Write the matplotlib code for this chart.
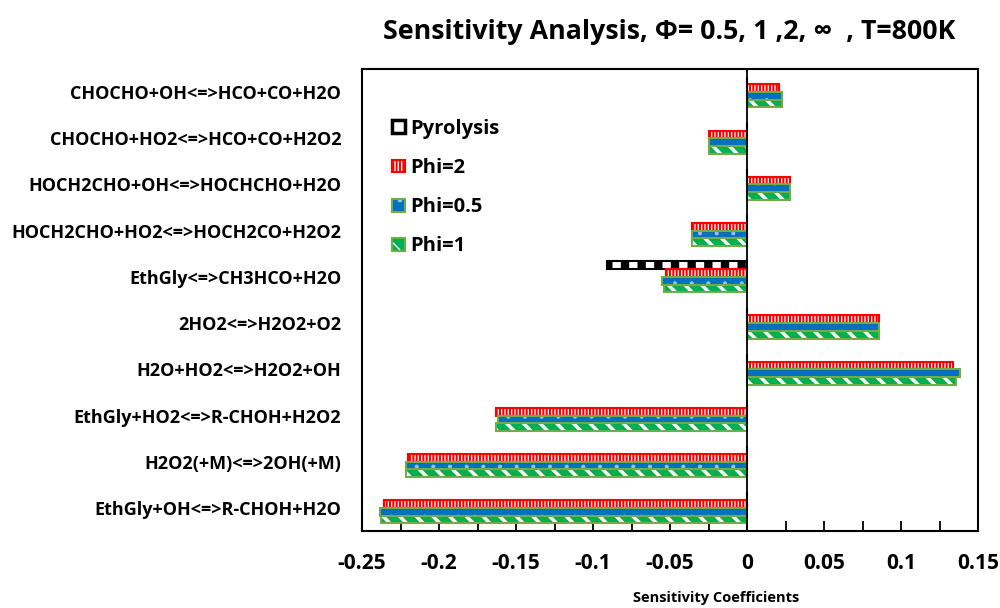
import matplotlib.pyplot as plt
from matplotlib.patches import Patch
from matplotlib.legend_handler import HandlerTuple
import numpy as np

plt.rcParams['font.family'] = ['Open Sans', 'DejaVu Sans']
plt.rcParams['font.weight'] = 'bold'

categories = [
    'CHOCHO+OH<=>HCO+CO+H2O',
    'CHOCHO+HO2<=>HCO+CO+H2O2',
    'HOCH2CHO+OH<=>HOCHCHO+H2O',
    'HOCH2CHO+HO2<=>HOCH2CO+H2O2',
    'EthGly<=>CH3HCO+H2O',
    '2HO2<=>H2O2+O2',
    'H2O+HO2<=>H2O2+OH',
    'EthGly+HO2<=>R-CHOH+H2O2',
    'H2O2(+M)<=>2OH(+M)',
    'EthGly+OH<=>R-CHOH+H2O',
]
pyrolysis = [0, 0, 0, 0, -0.091, 0, 0, 0, 0, 0]
phi2 = [0.021, -0.0245, 0.028, -0.036, -0.0525, 0.086, 0.134, -0.163, -0.220, -0.236]
phi05 = [0.023, -0.025, 0.028, -0.036, -0.055, 0.0856, 0.138, -0.162, -0.2217, -0.2386]
phi1 = [0.023, -0.0245, 0.028, -0.036, -0.0542, 0.086, 0.136, -0.163, -0.2217, -0.2378]

series = [
    # label, values, face, hatch colour, hatch, hatch lw, edge
    ('Pyrolysis', pyrolysis, 'white', 'black', '|', 6.0, 'black'),
    ('Phi=2', phi2, '#FF0000', 'white', '|||||', 0.9, '#FF0000'),
    ('Phi=0.5', phi05, '#0070C0', '#9fc3e6', '.', 0.5, '#70AD47'),
    ('Phi=1', phi1, '#00B050', 'white', '\\\\', 2.5, '#70AD47'),
]

fig = plt.figure(figsize=(10, 6.08), dpi=100)
ax = fig.add_axes([0.362, 0.1266, 0.616, 0.76])

y = np.arange(len(categories))
h = 0.167
handles = []
for i, (lab, vals, face, hcol, hatch, hlw, edge) in enumerate(series):
    off = (i - 1.5) * h
    with plt.rc_context({'hatch.linewidth': hlw}):
        ax.barh(y + off, vals, height=h, color=face, edgecolor=hcol,
                hatch=hatch, linewidth=0, zorder=2)
        ax.barh(y + off, vals, height=h, fill=False, edgecolor=edge,
                linewidth=1.5, zorder=3)
    if lab == 'Pyrolysis':
        # legend swatch: black frame around a white square
        p1 = Patch(facecolor='white', edgecolor='black', linewidth=2.5)
        p2 = Patch(fill=False, edgecolor='black', linewidth=1.5)
    else:
        with plt.rc_context({'hatch.linewidth': hlw}):
            p1 = Patch(facecolor=face, edgecolor=hcol, hatch=hatch, linewidth=0)
        p2 = Patch(fill=False, edgecolor=edge, linewidth=1.5)
    handles.append((p1, p2))

ax.set_xlim(-0.25, 0.15)
ax.set_ylim(len(categories) - 0.5, -0.5)
ax.axvline(0, color='black', lw=1.3, zorder=4)

ax.set_xticks(np.arange(-0.25, 0.151, 0.05))
ax.set_xticks(np.arange(-0.225, 0.15, 0.05), minor=True)
ax.set_xticklabels(['-0.25', '-0.2', '-0.15', '-0.1', '-0.05', '0', '0.05', '0.1', '0.15'])
ax.tick_params(axis='x', which='both', direction='in', length=7, width=1.3,
               labelsize=15, pad=16)
ax.set_yticks(y)
ax.set_yticklabels(categories, fontsize=13)
ax.tick_params(axis='y', length=0, pad=15)
for s in ax.spines.values():
    s.set_linewidth(1.5)

leg = ax.legend(handles, [s[0] for s in series],
                handler_map={tuple: HandlerTuple(ndivide=1)},
                loc='upper left', bbox_to_anchor=(0.02, 0.931), frameon=False,
                fontsize=14.5, handlelength=0.6, handleheight=0.6,
                handletextpad=0.3, labelspacing=0.95)

fig.text(0.669, 0.947, 'Sensitivity Analysis, \u03a6= 0.5, 1 ,2, \u221e  , T=800K',
         ha='center', va='center', fontsize=19.3, fontweight='bold')
fig.text(0.716, 0.016, 'Sensitivity Coefficients', ha='center', va='center',
         fontsize=10.5, fontweight='bold')

fig.savefig('out.png', dpi=100)
